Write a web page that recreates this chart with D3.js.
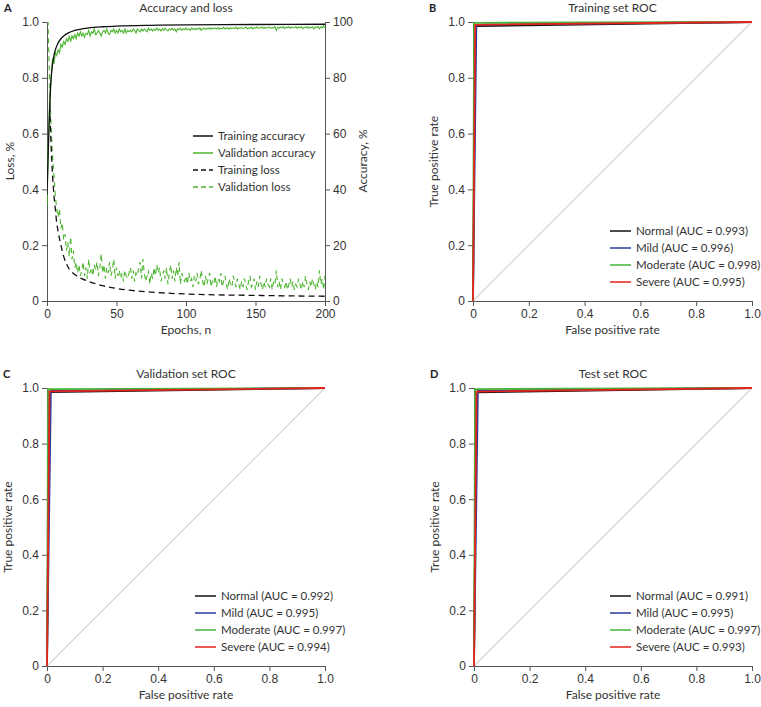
<!DOCTYPE html>
<html lang="en">
<head>
    <meta charset="UTF-8">
    <title>Accuracy, loss and ROC</title>
    <style>
        body { margin: 0; background: #fff; }
        svg { display: block; font-family: Lato, "Noto Sans", sans-serif; }
        .axis path, .axis line { stroke: #555; }
        .axis text { fill: #333; font-size: 12px; font-family: "Liberation Sans", Arial, sans-serif; }
    </style>
</head>
<body>
    <svg width="761" height="707"></svg>
    <script src="https://d3js.org/d3.v7.min.js"></script>
    <script>
        // ---- panel A data ----
        const trainAccEpochs = [0, 1, 2, 3, 4, 5, 6, 8, 10, 12, 15, 20, 25, 30, 40, 50, 75, 100, 150, 200]
        const trainAcc = [38, 55, 70, 80, 85, 88, 90, 92.5, 94, 95, 96, 97, 97.5, 97.9, 98.3, 98.5, 98.8, 99.0, 99.1, 99.2]

        const trainLossEpochs = [2, 3, 4, 5, 6, 7, 8, 10, 12, 15, 20, 25, 30, 40, 50, 75, 100, 150, 200]
        const trainLoss = [0.7, 0.55, 0.45, 0.38, 0.33, 0.28, 0.25, 0.2, 0.16, 0.123, 0.095, 0.08, 0.07, 0.055, 0.045, 0.032, 0.025, 0.02, 0.017]

        const valAcc = [
            34, 58, 74, 80, 87, 85, 89, 88, 90, 89, 92, 91, 93, 92, 94, 93, 95, 93, 95, 94,
            95.5, 94, 96, 95, 96.5, 95, 96, 94.5, 96, 95.5, 97, 95, 96.5, 96, 97.5, 95.5, 96, 97, 96, 95,
            96.5, 97, 96, 97.5, 96, 95.5, 97, 96.5, 97.5, 96, 97, 96, 97.5, 96.5, 97, 96, 97.5, 96, 97, 96.5,
            97, 96.5, 97.5, 97, 96, 97.5, 97, 96.5, 97.5, 96.8, 97.5, 97, 96.5, 97.8, 97, 97.5, 96.8, 97.5, 97, 97.8,
            97, 97.5, 96.8, 97.6, 97, 97.8, 97.2, 96.8, 97.5, 97.2, 97.8, 97, 97.5, 96.5, 97.6, 97.2, 97.8, 97, 97.5, 97.3,
            97.8, 97.2, 97.6, 97.0, 97.8, 97.4, 97.7, 97.2, 97.8, 97.5, 97.9, 97.0, 97.6, 97.8, 97.3, 97.8, 97.5, 97.9, 97.4, 97.8,
            97.6, 97.9, 97.5, 98.0, 97.4, 97.8, 97.6, 98.1, 97.5, 97.8, 97.9, 97.4, 98.0, 97.6, 97.9, 97.7, 98.1, 97.5, 97.9, 97.8,
            98.0, 97.6, 97.9, 98.2, 97.6, 97.9, 97.8, 98.1, 97.5, 98.0, 97.8, 98.2, 97.7, 98.0, 97.9, 98.2, 97.6, 98.1, 97.8, 98.0,
            98.2, 97.7, 98.0, 97.9, 98.3, 97.0, 98.1, 97.8, 98.2, 97.9, 98.3, 97.7, 98.1, 98.0, 98.3, 97.8, 98.2, 97.9, 98.0, 98.3,
            97.8, 98.2, 97.9, 98.3, 97.6, 98.1, 98.0, 98.4, 97.7, 98.2, 97.9, 98.3, 97.5, 98.2, 98.0, 98.4, 97.6, 98.3, 97.9, 98.6,
            98.0
        ]

        const valLoss = [
            1.2, 0.95, 0.75, 0.62, 0.52, 0.45, 0.38, 0.33, 0.30, 0.33, 0.26, 0.28, 0.22, 0.24, 0.18, 0.21, 0.16, 0.23, 0.15, 0.18,
            0.12, 0.14, 0.10, 0.13, 0.09, 0.11, 0.14, 0.09, 0.12, 0.08, 0.15, 0.10, 0.12, 0.09, 0.13, 0.11, 0.14, 0.09, 0.12, 0.17,
            0.10, 0.13, 0.08, 0.12, 0.10, 0.14, 0.09, 0.11, 0.15, 0.08, 0.12, 0.09, 0.11, 0.08, 0.10, 0.07, 0.11, 0.09, 0.08, 0.10,
            0.12, 0.08, 0.11, 0.07, 0.10, 0.09, 0.12, 0.14, 0.08, 0.15, 0.10, 0.07, 0.09, 0.11, 0.06, 0.10, 0.08, 0.12, 0.09, 0.13,
            0.10, 0.12, 0.07, 0.09, 0.11, 0.08, 0.12, 0.06, 0.10, 0.13, 0.08, 0.11, 0.07, 0.12, 0.09, 0.14, 0.06, 0.10, 0.08, 0.07,
            0.09, 0.06, 0.10, 0.07, 0.08, 0.05, 0.09, 0.07, 0.10, 0.06, 0.08, 0.11, 0.07, 0.05, 0.09, 0.06, 0.08, 0.10, 0.05, 0.07,
            0.06, 0.09, 0.05, 0.08, 0.07, 0.10, 0.05, 0.07, 0.09, 0.06, 0.04, 0.08, 0.06, 0.05, 0.09, 0.07, 0.05, 0.08, 0.06, 0.04,
            0.07, 0.05, 0.08, 0.06, 0.04, 0.07, 0.09, 0.05, 0.06, 0.08, 0.04, 0.07, 0.05, 0.09, 0.06, 0.04, 0.07, 0.05, 0.08, 0.06,
            0.05, 0.08, 0.04, 0.07, 0.06, 0.11, 0.05, 0.07, 0.04, 0.08, 0.06, 0.05, 0.07, 0.04, 0.06, 0.08, 0.05, 0.07, 0.04, 0.06,
            0.05, 0.08, 0.06, 0.04, 0.07, 0.05, 0.09, 0.06, 0.04, 0.07, 0.05, 0.08, 0.06, 0.04, 0.07, 0.05, 0.11, 0.06, 0.08, 0.04,
            0.09
        ]

        // ---- ROC data: [fpr, tpr] corner points per class ----
        const classes = ['Normal', 'Mild', 'Moderate', 'Severe']
        const classColors = ['#111111', '#2a3a9c', '#45b53a', '#e5231d']

        const trainRoc = [
            [[0, 0], [0.008, 0.985], [1, 1]],
            [[0, 0], [0.012, 0.99], [1, 1]],
            [[0, 0], [0.004, 0.997], [1, 1]],
            [[0, 0], [0.008, 0.99], [1, 1]]
        ]
        const valRoc = [
            [[0, 0], [0.008, 0.985], [1, 1]],
            [[0, 0], [0.014, 0.99], [1, 1]],
            [[0, 0], [0.004, 0.996], [1, 1]],
            [[0, 0], [0.009, 0.988], [1, 1]]
        ]
        const testRoc = [
            [[0, 0], [0.008, 0.984], [1, 1]],
            [[0, 0], [0.014, 0.99], [1, 1]],
            [[0, 0], [0.004, 0.996], [1, 1]],
            [[0, 0], [0.009, 0.987], [1, 1]]
        ]
        const trainAuc = ['0.993', '0.996', '0.998', '0.995']
        const valAuc = ['0.992', '0.995', '0.997', '0.994']
        const testAuc = ['0.991', '0.995', '0.997', '0.993']

        const svg = d3.select('svg')
        const fmt = d => d === 0 ? '0' : d3.format('.1f')(d)

        // ---------- Panel A ----------
        const a = { x0: 47, x1: 325, y0: 22, y1: 301 }
        const xA = d3.scaleLinear().domain([0, 200]).range([a.x0, a.x1])
        const yLoss = d3.scaleLinear().domain([0, 1]).range([a.y1, a.y0])
        const yAcc = d3.scaleLinear().domain([0, 100]).range([a.y1, a.y0])

        const gA = svg.append('g')
        gA.append('clipPath').attr('id', 'clipA')
            .append('rect').attr('x', a.x0).attr('y', a.y0).attr('width', a.x1 - a.x0).attr('height', a.y1 - a.y0)

        gA.append('g').attr('class', 'axis').attr('transform', `translate(0,${a.y1})`)
            .call(d3.axisBottom(xA).tickValues([0, 50, 100, 150, 200]).tickSizeOuter(0).tickSize(5).tickPadding(3))
        gA.append('g').attr('class', 'axis').attr('transform', `translate(${a.x0},0)`)
            .call(d3.axisLeft(yLoss).tickValues([0, 0.2, 0.4, 0.6, 0.8, 1.0]).tickFormat(fmt).tickSizeOuter(0).tickSize(5).tickPadding(3))
        gA.append('g').attr('class', 'axis').attr('transform', `translate(${a.x1},0)`)
            .call(d3.axisRight(yAcc).tickValues([0, 20, 40, 60, 80, 100]).tickSizeOuter(0).tickSize(5).tickPadding(3))

        const plotA = gA.append('g').attr('clip-path', 'url(#clipA)')
        const lineAcc = d3.line().x(d => xA(d[0])).y(d => yAcc(d[1]))
        const lineLoss = d3.line().x(d => xA(d[0])).y(d => yLoss(d[1]))

        plotA.append('path')
            .attr('d', lineLoss(valLoss.map((v, i) => [i, v])))
            .attr('fill', 'none').attr('stroke', '#4cb52f').attr('stroke-width', 1.1).attr('stroke-dasharray', '5,4')
        plotA.append('path')
            .attr('d', lineLoss.curve(d3.curveMonotoneX)(trainLossEpochs.map((e, i) => [e, trainLoss[i]])))
            .attr('fill', 'none').attr('stroke', '#111').attr('stroke-width', 1.3).attr('stroke-dasharray', '6,4')
        plotA.append('path')
            .attr('d', lineAcc(valAcc.map((v, i) => [i, v])))
            .attr('fill', 'none').attr('stroke', '#4cb52f').attr('stroke-width', 1.1)
        plotA.append('path')
            .attr('d', lineAcc.curve(d3.curveMonotoneX)(trainAccEpochs.map((e, i) => [e, trainAcc[i]])))
            .attr('fill', 'none').attr('stroke', '#111').attr('stroke-width', 1.3)

        const legA = [
            { label: 'Training accuracy', color: '#111', dash: null },
            { label: 'Validation accuracy', color: '#4cb52f', dash: null },
            { label: 'Training loss', color: '#111', dash: '5,3' },
            { label: 'Validation loss', color: '#4cb52f', dash: '5,3' }
        ]
        legA.forEach((l, i) => {
            const y = 136 + i * 17
            gA.append('line').attr('x1', 193).attr('x2', 213).attr('y1', y).attr('y2', y)
                .attr('stroke', l.color).attr('stroke-width', 1.5).attr('stroke-dasharray', l.dash)
            gA.append('text').attr('x', 218).attr('y', y + 4).attr('font-size', 11.5).attr('fill', '#333').text(l.label)
        })

        gA.append('text').attr('x', 186).attr('y', 12).attr('text-anchor', 'middle').attr('font-size', 12).attr('fill', '#333').text('Accuracy and loss')
        gA.append('text').attr('x', 186).attr('y', 334).attr('text-anchor', 'middle').attr('font-size', 12).attr('fill', '#333').text('Epochs, n')
        gA.append('text').attr('transform', `translate(14,161) rotate(-90)`).attr('text-anchor', 'middle').attr('font-size', 12).attr('fill', '#333').text('Loss, %')
        gA.append('text').attr('transform', `translate(367,161) rotate(-90)`).attr('text-anchor', 'middle').attr('font-size', 12).attr('fill', '#333').text('Accuracy, %')
        gA.append('text').attr('x', 4).attr('y', 12).attr('font-size', 11).attr('font-weight', 'bold').attr('fill', '#222').text('A')

        // ---------- ROC panels ----------
        function rocPanel(box, letter, title, rocs, aucs, legX, legY) {
            const g = svg.append('g')
            const x = d3.scaleLinear().domain([0, 1]).range([box.x0, box.x1])
            const y = d3.scaleLinear().domain([0, 1]).range([box.y1, box.y0])
            const ticks = [0, 0.2, 0.4, 0.6, 0.8, 1.0]

            g.append('g').attr('class', 'axis').attr('transform', `translate(0,${box.y1})`)
                .call(d3.axisBottom(x).tickValues(ticks).tickFormat(fmt).tickSizeOuter(0).tickSize(5).tickPadding(3))
            g.append('g').attr('class', 'axis').attr('transform', `translate(${box.x0},0)`)
                .call(d3.axisLeft(y).tickValues(ticks).tickFormat(fmt).tickSizeOuter(0).tickSize(5).tickPadding(3))

            g.append('line').attr('x1', x(0)).attr('y1', y(0)).attr('x2', x(1)).attr('y2', y(1))
                .attr('stroke', '#d4d4d4').attr('stroke-width', 1.2)

            const line = d3.line().x(d => x(d[0])).y(d => y(d[1]))
            rocs.forEach((pts, i) => {
                g.append('path').attr('d', line(pts)).attr('fill', 'none')
                    .attr('stroke', classColors[i]).attr('stroke-width', 1.8)
            })

            classes.forEach((c, i) => {
                const ly = legY + i * 17
                g.append('line').attr('x1', legX).attr('x2', legX + 21).attr('y1', ly).attr('y2', ly)
                    .attr('stroke', classColors[i]).attr('stroke-width', 1.5)
                g.append('text').attr('x', legX + 26).attr('y', ly + 4).attr('font-size', 11.5).attr('fill', '#333')
                    .text(`${c} (AUC = ${aucs[i]})`)
            })

            const cx = (box.x0 + box.x1) / 2
            g.append('text').attr('x', cx).attr('y', box.y0 - 10).attr('text-anchor', 'middle').attr('font-size', 12).attr('fill', '#333').text(title)
            g.append('text').attr('x', cx).attr('y', box.y1 + 33).attr('text-anchor', 'middle').attr('font-size', 12).attr('fill', '#333').text('False positive rate')
            g.append('text').attr('transform', `translate(${box.x0 - 35},${(box.y0 + box.y1) / 2}) rotate(-90)`)
                .attr('text-anchor', 'middle').attr('font-size', 12).attr('fill', '#333').text('True positive rate')
            g.append('text').attr('x', box.x0 - 44).attr('y', box.y0 - 10).attr('font-size', 11).attr('font-weight', 'bold').attr('fill', '#222').text(letter)
        }

        rocPanel({ x0: 473, x1: 752, y0: 22, y1: 301 }, 'B', 'Training set ROC', trainRoc, trainAuc, 610, 231)
        rocPanel({ x0: 47, x1: 325, y0: 388, y1: 666 }, 'C', 'Validation set ROC', valRoc, valAuc, 195, 596)
        rocPanel({ x0: 474, x1: 752, y0: 388, y1: 666 }, 'D', 'Test set ROC', testRoc, testAuc, 610, 596)
    </script>
</body>
</html>
